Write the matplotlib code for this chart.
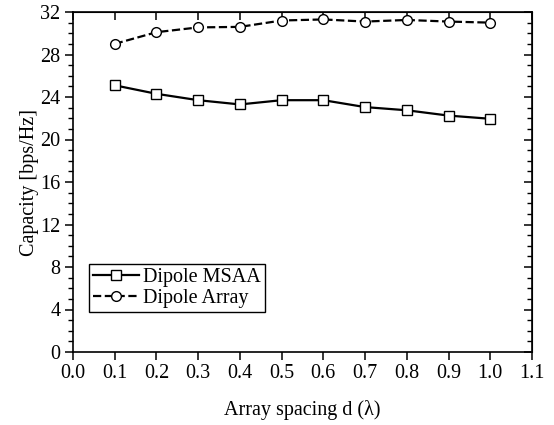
import matplotlib
matplotlib.use("Agg")
import matplotlib.pyplot as plt
from matplotlib.ticker import MultipleLocator

spacing = [0.1, 0.2, 0.3, 0.4, 0.5, 0.6, 0.7, 0.8, 0.9, 1.0]
msaa = [25.1, 24.3, 23.7, 23.3, 23.7, 23.7, 23.05, 22.75, 22.25, 21.95]
array = [29.0, 30.1, 30.55, 30.6, 31.2, 31.3, 31.1, 31.25, 31.1, 31.0]

plt.rcParams['font.family'] = ['Liberation Serif', 'DejaVu Serif']
plt.rcParams['font.size'] = 14.5

fig = plt.figure(figsize=(5.54, 4.25), dpi=100)
ax = fig.add_axes([73 / 554, 1 - 352 / 425, (532 - 73) / 554, (352 - 12) / 425])

ax.plot(spacing, msaa, '-', color='black', lw=1.6, marker='s', ms=7,
        mfc='white', mec='black', mew=1.0, label='Dipole MSAA')
ax.plot(spacing, array, '--', color='black', lw=1.6, marker='o', ms=7,
        mfc='white', mec='black', mew=1.0, label='Dipole Array')

ax.set_xlim(0.0, 1.1)
ax.set_ylim(0, 32)
ax.xaxis.set_major_locator(MultipleLocator(0.1))
ax.yaxis.set_major_locator(MultipleLocator(4))
ax.yaxis.set_minor_locator(MultipleLocator(1))
ax.xaxis.set_major_formatter(plt.FuncFormatter(lambda v, p: f"{v:.1f}"))

for s in ax.spines.values():
    s.set_linewidth(1.2)
ax.tick_params(which='major', direction='out', length=6, width=1.1, pad=3)
ax.tick_params(which='minor', direction='out', length=3.5, width=1.0)

top = ax.secondary_xaxis('top')
top.xaxis.set_major_locator(MultipleLocator(0.1))
top.tick_params(direction='in', length=6, width=1.1, labeltop=False)
right = ax.secondary_yaxis('right')
right.yaxis.set_major_locator(MultipleLocator(4))
right.yaxis.set_minor_locator(MultipleLocator(1))
right.tick_params(which='major', direction='in', length=6, width=1.1, labelright=False)
right.tick_params(which='minor', direction='in', length=3.5, width=1.0)

ax.set_xlabel('Array spacing d (λ)', labelpad=12)
ax.set_ylabel('Capacity [bps/Hz]', labelpad=1)

leg = ax.legend(loc='lower left', bbox_to_anchor=(16 / 459, 40 / 340),
                frameon=True, fancybox=False, edgecolor='black', framealpha=1,
                handlelength=2.3, borderpad=0.2, handletextpad=0.2,
                labelspacing=0.1, borderaxespad=0)
leg.get_frame().set_linewidth(1.0)

fig.savefig('out.png', dpi=100)
